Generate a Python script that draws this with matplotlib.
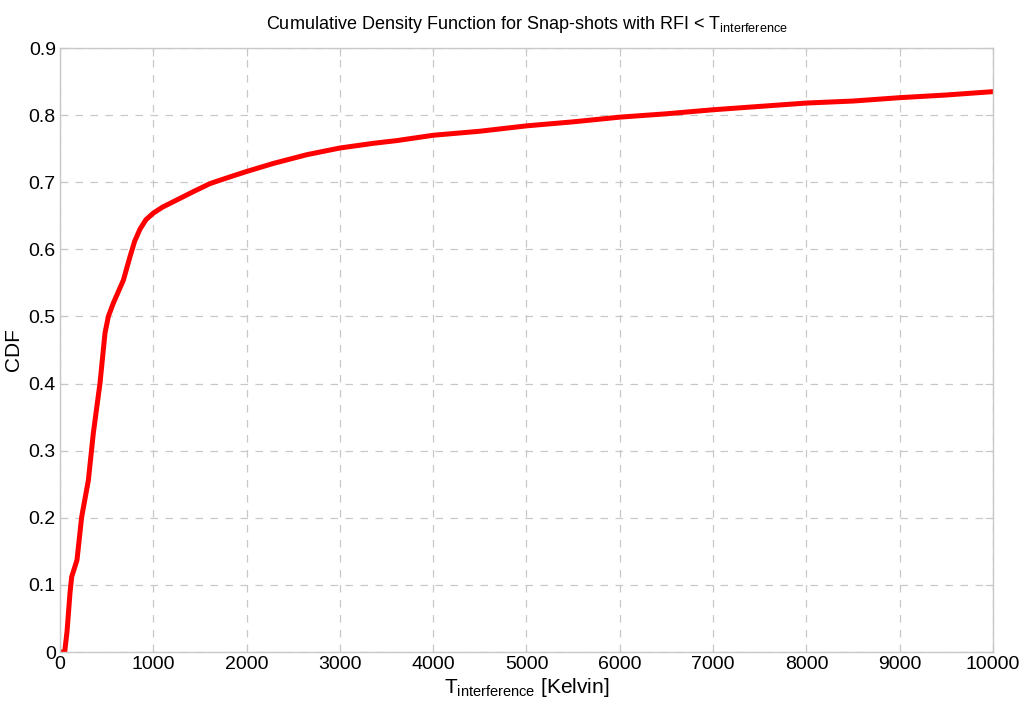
import numpy as np
import matplotlib
matplotlib.use('Agg')
import matplotlib.pyplot as plt

# CDF
t_kelvin = [0, 50, 75, 107, 125, 182, 232, 304, 357, 429, 482, 518, 572, 679,
            750, 800, 857, 920, 1000, 1100, 1215, 1429, 1608, 1822, 2000,
            2286, 2644, 3000, 3358, 3608, 4000, 4500, 5000, 5500, 6000, 6500,
            7000, 7500, 8000, 8500, 9000, 9500, 10000]
cdf = [0.0, 0.0, 0.03, 0.088, 0.112, 0.137, 0.201, 0.256, 0.326, 0.401,
       0.475, 0.5, 0.52, 0.554, 0.589, 0.612, 0.630, 0.644, 0.654, 0.663,
       0.671, 0.686, 0.698, 0.708, 0.716, 0.728, 0.741, 0.751, 0.758, 0.762,
       0.770, 0.776, 0.784, 0.790, 0.797, 0.802, 0.808, 0.813, 0.818, 0.821,
       0.826, 0.830, 0.835]

x_ticks = np.arange(0, 10001, 1000)
y_ticks = np.round(np.arange(0, 0.91, 0.1), 1)

plt.rcParams['font.family'] = ['Liberation Sans', 'DejaVu Sans']
plt.rcParams['mathtext.fontset'] = 'custom'
plt.rcParams['mathtext.rm'] = 'Liberation Sans'

fig = plt.figure(figsize=(10.24, 7.21), dpi=100)
ax = fig.add_axes([0.0586, 0.0957, 0.9111, 0.8377])

ax.plot(t_kelvin, cdf, color='red', lw=3.6, solid_joinstyle='round')

ax.set_xlim(0, 10000)
ax.set_ylim(0, 0.9)
ax.set_xticks(x_ticks)
ax.set_yticks(y_ticks)
ax.set_xticklabels([str(v) for v in x_ticks])
ax.set_yticklabels(['0'] + [str(v) for v in y_ticks[1:]])

ax.grid(True, color='#c8c8c8', linestyle=(0, (6, 6)), linewidth=0.9)
for s in ax.spines.values():
    s.set_color('#c8c8c8')
    s.set_linewidth(1.0)
ax.tick_params(direction='in', color='#c8c8c8', length=6, labelsize=14,
               pad=3, top=True, right=True)

ax.set_xlabel(r'T$_{\mathrm{interference}}$ [Kelvin]', fontsize=15, labelpad=2)
ax.set_ylabel('CDF', fontsize=15, labelpad=4)
ax.set_title(r'Cumulative Density Function for Snap-shots with RFI < T$_{\mathrm{interference}}$',
             fontsize=13, pad=14)

fig.savefig('out.png', dpi=100)
